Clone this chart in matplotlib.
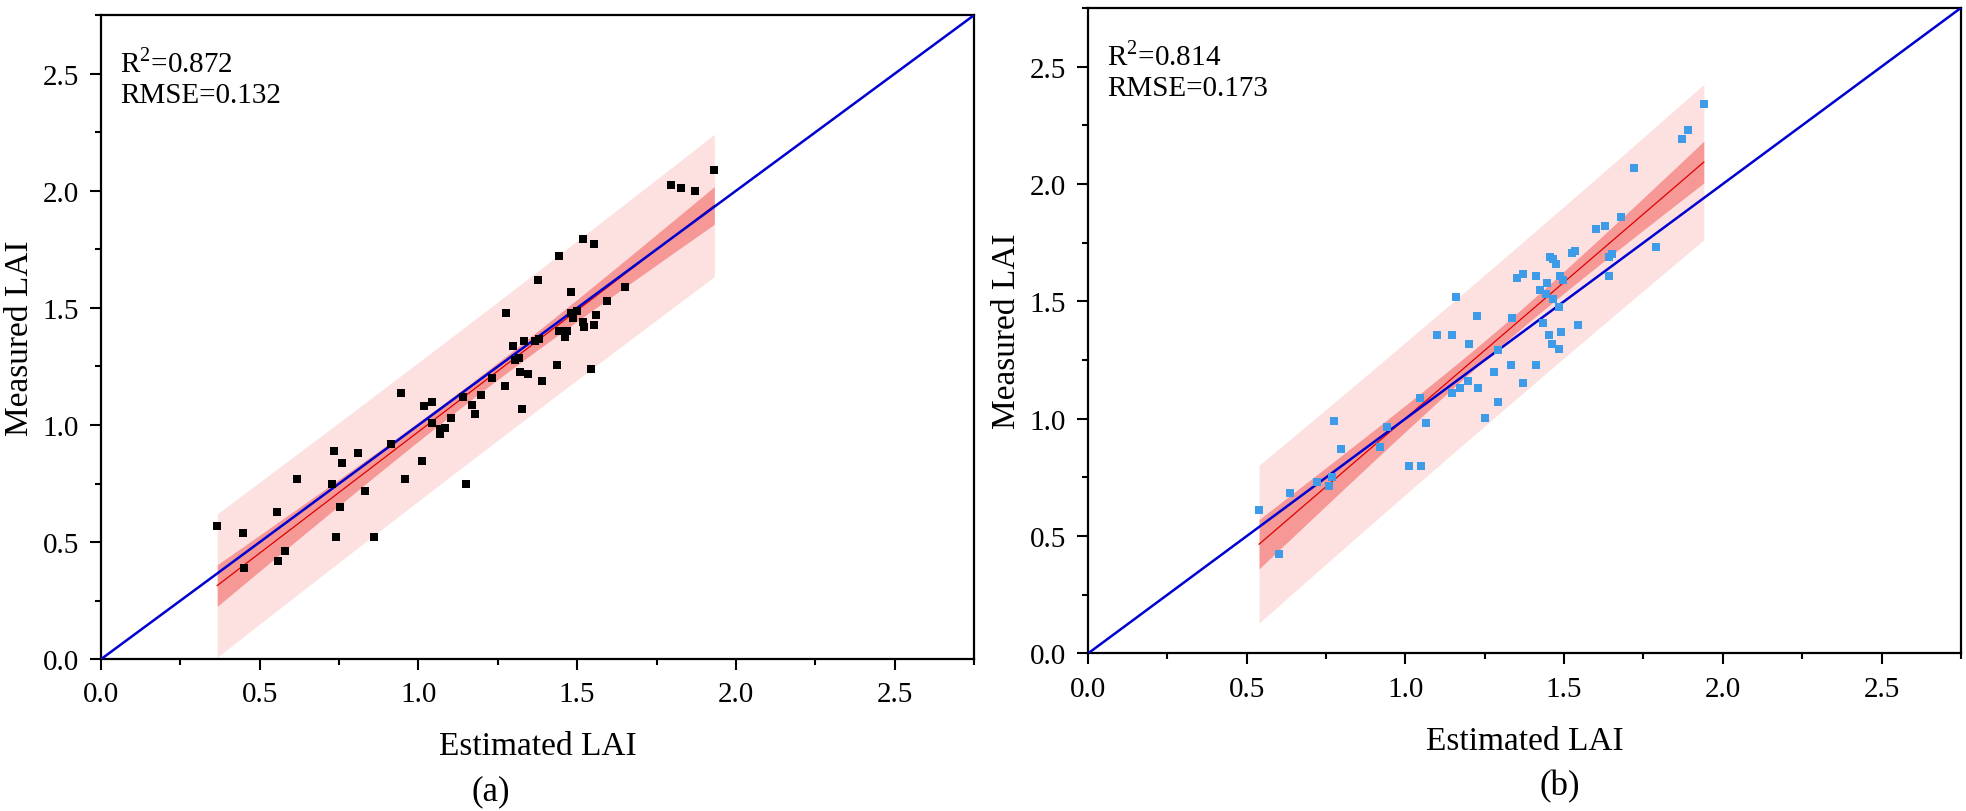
import matplotlib.pyplot as plt
import numpy as np
from matplotlib.ticker import MultipleLocator

plt.rcParams['font.family'] = ['Liberation Serif', 'DejaVu Serif']
plt.rcParams['mathtext.fontset'] = 'custom'
plt.rcParams['mathtext.rm'] = 'Liberation Serif'

# panel (a): estimated vs measured LAI
a_est = [0.366, 0.446, 0.554, 0.450, 0.580, 0.559, 0.618, 0.728, 0.733, 0.759,
         0.752, 0.809, 0.831, 0.740, 0.860, 0.913, 0.944, 0.957, 1.010, 1.017,
         1.044, 1.044, 1.067, 1.068, 1.085, 1.101, 1.139, 1.150, 1.169, 1.178,
         1.196, 1.231, 1.273, 1.275, 1.298, 1.304, 1.318, 1.321, 1.331, 1.325,
         1.346, 1.366, 1.380, 1.389, 1.436, 1.544, 1.442, 1.467, 1.461, 1.517,
         1.523, 1.553, 1.488, 1.559, 1.482, 1.501, 1.594, 1.482, 1.651, 1.376,
         1.443, 1.518, 1.554, 1.795, 1.826, 1.870, 1.932]
a_meas = [0.570, 0.538, 0.629, 0.389, 0.460, 0.419, 0.768, 0.749, 0.889, 0.839,
          0.650, 0.879, 0.719, 0.520, 0.520, 0.919, 1.138, 0.768, 0.848, 1.080,
          1.099, 1.009, 0.983, 0.960, 0.987, 1.030, 1.118, 0.749, 1.087, 1.049,
          1.128, 1.200, 1.168, 1.479, 1.338, 1.279, 1.286, 1.228, 1.359, 1.068,
          1.218, 1.360, 1.368, 1.189, 1.258, 1.239, 1.400, 1.400, 1.377, 1.439,
          1.417, 1.429, 1.457, 1.469, 1.479, 1.489, 1.529, 1.570, 1.588, 1.618,
          1.722, 1.793, 1.774, 2.023, 2.011, 2.001, 2.091]

# panel (b)
b_est = [0.539, 0.601, 0.638, 0.723, 0.760, 0.769, 0.776, 0.797, 0.920, 0.941,
         1.010, 1.050, 1.066, 1.046, 1.147, 1.171, 1.198, 1.228, 1.252, 1.292,
         1.278, 1.333, 1.369, 1.410, 1.292, 1.199, 1.101, 1.147, 1.227, 1.159,
         1.336, 1.432, 1.452, 1.490, 1.463, 1.484, 1.544, 1.484, 1.465, 1.442,
         1.423, 1.446, 1.350, 1.369, 1.412, 1.486, 1.497, 1.455, 1.465, 1.476,
         1.526, 1.533, 1.600, 1.630, 1.640, 1.650, 1.640, 1.680, 1.720, 1.790,
         1.870, 1.890, 1.940]
b_meas = [0.612, 0.423, 0.682, 0.731, 0.714, 0.752, 0.991, 0.872, 0.880, 0.963,
          0.800, 0.800, 0.981, 1.090, 1.111, 1.130, 1.161, 1.130, 1.001, 1.072,
          1.201, 1.231, 1.151, 1.231, 1.291, 1.320, 1.358, 1.358, 1.439, 1.518,
          1.429, 1.409, 1.358, 1.368, 1.320, 1.299, 1.399, 1.476, 1.509, 1.530,
          1.550, 1.580, 1.599, 1.618, 1.608, 1.608, 1.589, 1.690, 1.679, 1.660,
          1.707, 1.714, 1.810, 1.820, 1.690, 1.700, 1.610, 1.860, 2.070, 1.730,
          2.190, 2.230, 2.340]

stats_a = "R$^\\mathrm{2}$=0.872\nRMSE=0.132"
stats_b = "R$^\\mathrm{2}$=0.814\nRMSE=0.173"

T95 = 1.997  # t value, 95 %, ~65 dof


def draw_panel(ax, x, y, color, stats, tag, tag_x):
    x = np.array(x)
    y = np.array(y)
    n = len(x)
    slope, icpt = np.polyfit(x, y, 1)
    xs = np.linspace(x.min(), x.max(), 200)
    fit = icpt + slope * xs
    s = np.sqrt(np.sum((y - (icpt + slope * x)) ** 2) / (n - 2))
    sxx = np.sum((x - x.mean()) ** 2)
    se_mean = s * np.sqrt(1 / n + (xs - x.mean()) ** 2 / sxx)
    se_pred = s * np.sqrt(1 + 1 / n + (xs - x.mean()) ** 2 / sxx)

    ax.fill_between(xs, fit - T95 * se_pred, fit + T95 * se_pred,
                    color='#fde0e0', lw=0, zorder=1)
    ax.fill_between(xs, fit - T95 * se_mean, fit + T95 * se_mean,
                    color='#f59896', lw=0, zorder=2)
    ax.plot(xs, fit, color='#e00000', lw=0.9, zorder=3)
    ax.axline((0, 0), slope=1, color='#0000d0', lw=1.8, zorder=4)
    ax.scatter(x, y, marker='s', s=38, color=color, lw=0, zorder=5)

    ax.set_xlim(0, 2.75)
    ax.set_ylim(0, 2.75)
    ax.xaxis.set_major_locator(MultipleLocator(0.5))
    ax.xaxis.set_minor_locator(MultipleLocator(0.25))
    ax.yaxis.set_major_locator(MultipleLocator(0.5))
    ax.yaxis.set_minor_locator(MultipleLocator(0.25))
    ax.xaxis.set_major_formatter(lambda v, p: f"{v:.1f}")
    ax.yaxis.set_major_formatter(lambda v, p: f"{v:.1f}")
    ax.tick_params(which='major', direction='out', length=8, width=1.5,
                   labelsize=21, pad=8)
    ax.tick_params(which='minor', direction='out', length=4.5, width=1.5)
    for sp in ax.spines.values():
        sp.set_linewidth(1.6)

    ax.set_xlabel("Estimated LAI", fontsize=24)
    ax.xaxis.set_label_coords(0.5, -0.135)
    ax.xaxis.label.set_va('center')
    ax.set_ylabel("Measured LAI", fontsize=24)
    ax.yaxis.set_label_coords(-0.093, 0.5)
    ax.yaxis.label.set_va('center')

    ax.text(0.022, 0.903, stats, transform=ax.transAxes, fontsize=21,
            ha='left', va='center', linespacing=1.25)
    ax.text(tag_x, -0.205, tag, transform=ax.transAxes, fontsize=25,
            ha='center', va='center')


fig = plt.figure(figsize=(19.66, 8.12), dpi=100)
ax1 = fig.add_axes([0.0514, 0.187, 0.444, 0.793])
ax2 = fig.add_axes([0.5534, 0.194, 0.444, 0.795])

draw_panel(ax1, a_est, a_meas, 'black', stats_a, "(a)", 0.446)
draw_panel(ax2, b_est, b_meas, '#3d9be8', stats_b, "(b)", 0.54)

fig.savefig("out.png", dpi=100)
